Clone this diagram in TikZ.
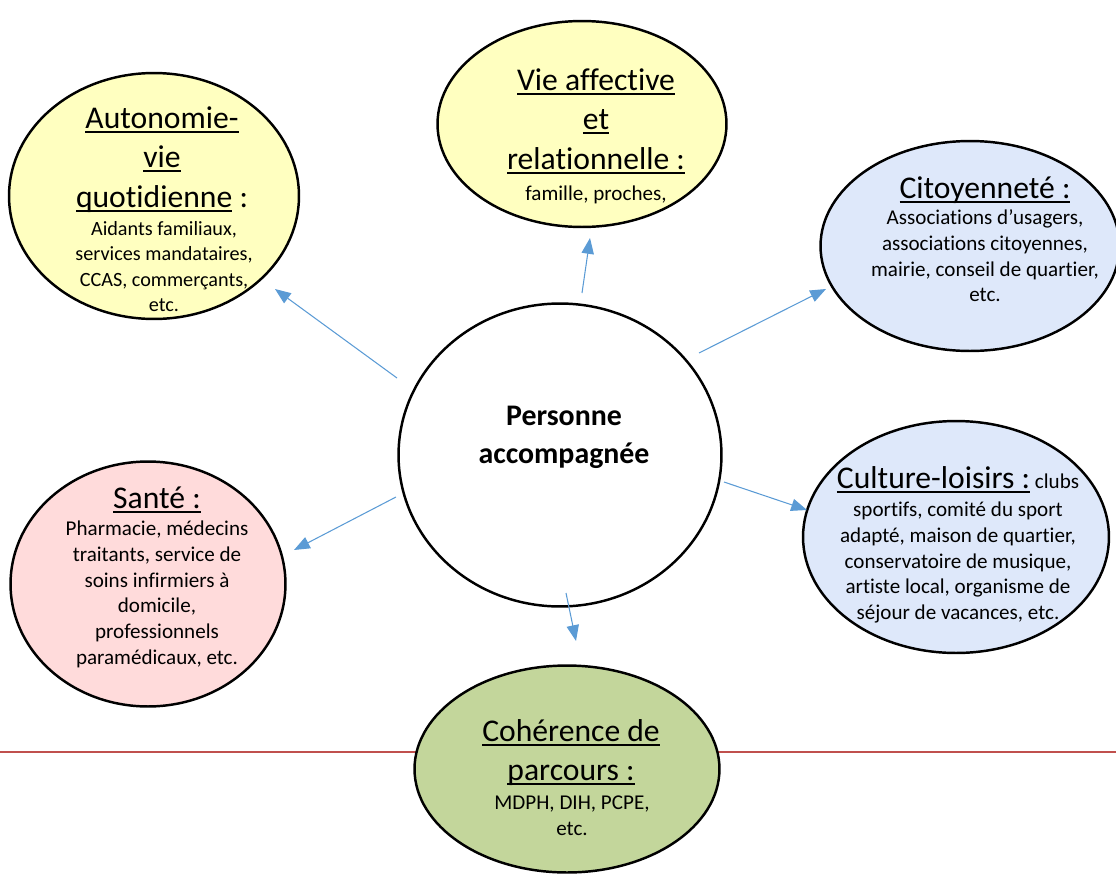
\documentclass[tikz,border=0pt]{standalone}
\usepackage{fontspec}
\setmainfont{Carlito}[Ligatures={NoCommon,NoContextual,NoRequired}]
\usetikzlibrary{arrows.meta,shapes.geometric}
\newsavebox\ulbox
\newcommand\uln[1]{\sbox\ulbox{#1}\rlap{\rule[-2.6pt]{\wd\ulbox}{1.2pt}}\usebox\ulbox}
\definecolor{yel}{HTML}{FFFFC0}
\definecolor{blu}{HTML}{DEE8FA}
\definecolor{pnk}{HTML}{FFDBDB}
\definecolor{grn}{HTML}{C3D69B}
\definecolor{arrowblue}{HTML}{5B9BD5}
\definecolor{redline}{HTML}{C0504D}
\newcommand\hstr{\rule{0pt}{15pt}}
\newcommand\bstr{\rule{0pt}{10pt}}
\newcommand\smallbody{\fontsize{12}{14.7}\selectfont}
\begin{document}
\begin{tikzpicture}[x=0.02cm,y=-0.02cm,
  ell/.style={ellipse, draw=black, line width=1.4pt, inner sep=0pt},
  hd/.style={font=\fontsize{18}{22.4}\selectfont, align=center, inner sep=0pt, anchor=north, yshift=15pt},
  bd/.style={font=\smallbody, align=center, inner sep=0pt, anchor=north, yshift=10pt},
  ct/.style={font=\fontsize{17}{21.5}\selectfont\bfseries, align=center, inner sep=0pt, anchor=north, yshift=15pt},
  arr/.style={-{Triangle[length=9pt,width=7pt]}, draw=arrowblue, line width=0.6pt},
  sep/.style={draw=redline, line width=0.9pt}]
\useasboundingbox (0,0) rectangle (1116,876);

% red separator line
\coordinate (rl) at (0,752);
\coordinate (rr) at (1116,752);
\draw[sep] (rl) -- (rr);

% ellipses
\node[ell, fill=yel, minimum width=5.8cm, minimum height=4.92cm] (auto) at (154,196) {};
\node[ell, fill=yel, minimum width=5.78cm, minimum height=4.12cm] (vie) at (582,124) {};
\node[ell, fill=blu, minimum width=5.98cm, minimum height=4.2cm] (cit) at (970,246) {};
\node[ell, fill=white, minimum width=6.46cm, minimum height=6.06cm] (pc) at (560,455) {};
\node[ell, fill=blu, minimum width=6.12cm, minimum height=4.64cm] (cul) at (956,537) {};
\node[ell, fill=pnk, minimum width=5.5cm, minimum height=4.9cm] (san) at (148,584) {};
\node[ell, fill=grn, minimum width=6.1cm, minimum height=4.14cm] (coh) at (567,769) {};

% texts
\node[hd] (autoh) at (162,128) {\hstr\uln{Autonomie-}\\\uln{vie}\\\uln{quotidienne} :};
\node[bd, font=\fontsize{11.5}{14.5}\selectfont] (autob) at (164,235) {\bstr Aidants familiaux,\\services mandataires,\\CCAS, commerçants,\\etc.};

\node[hd] (vieh) at (596,90) {\hstr\uln{Vie affective}\\\uln{et}\\\uln{relationnelle :}};
\node[bd] (vieb) at (596,200) {\bstr famille, proches,};

\node[hd] (cith) at (985,198) {\hstr\uln{Citoyenneté :}};
\node[bd] (citb) at (985,224) {\bstr Associations d’usagers,\\associations citoyennes,\\mairie, conseil de quartier,\\etc.};

\node[ct] (pct) at (564,425) {\hstr Personne\\accompagnée};

\node[hd] (culh) at (958,488) {\hstr\uln{Culture-loisirs :}{\smallbody{} clubs}};
\node[bd] (culb) at (958,516) {\bstr sportifs, comité du sport\\adapté, maison de quartier,\\conservatoire de musique,\\artiste local, organisme de\\séjour de vacances, etc.};

\node[hd] (sanh) at (157,508) {\hstr\uln{Santé :}};
\node[bd] (sanb) at (157,535) {\bstr Pharmacie, médecins\\traitants, service de\\soins infirmiers à\\domicile,\\professionnels\\paramédicaux, etc.};

\node[hd] (cohh) at (571,741) {\hstr\uln{Cohérence de}\\\uln{parcours :}};
\node[bd] (cohb) at (572,809) {\bstr MDPH, DIH, PCPE,\\etc.};

% arrows
\coordinate (a1s) at (397,378); \coordinate (a1e) at (275,289);
\coordinate (a2s) at (582,293); \coordinate (a2e) at (590,238);
\coordinate (a3s) at (699,353); \coordinate (a3e) at (826,289);
\coordinate (a4s) at (724,482); \coordinate (a4e) at (807,510);
\coordinate (a5s) at (396,497); \coordinate (a5e) at (294,550);
\coordinate (a6s) at (566,593); \coordinate (a6e) at (576,641);
\draw[arr] (a1s) -- (a1e);
\draw[arr] (a2s) -- (a2e);
\draw[arr] (a3s) -- (a3e);
\draw[arr] (a4s) -- (a4e);
\draw[arr] (a5s) -- (a5e);
\draw[arr] (a6s) -- (a6e);
\end{tikzpicture}
\end{document}
